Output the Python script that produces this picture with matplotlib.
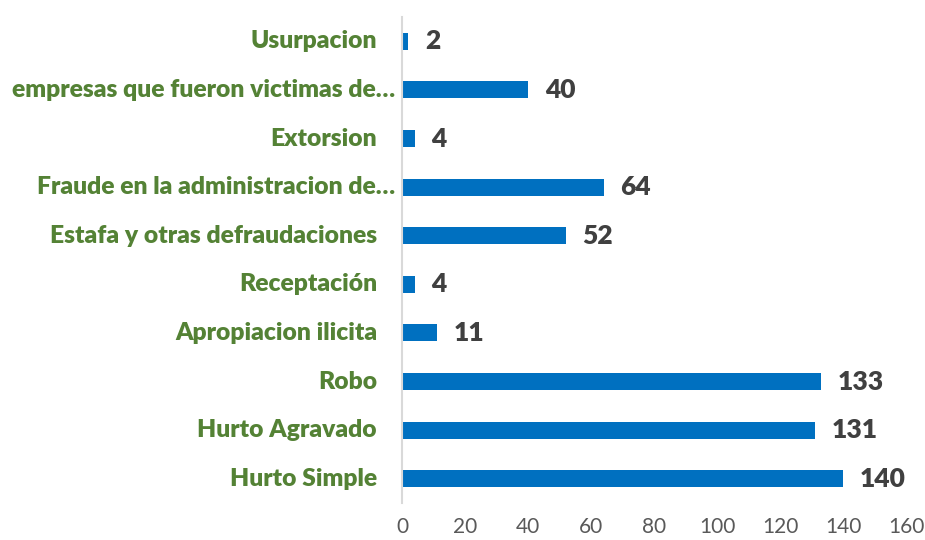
import matplotlib
import matplotlib.pyplot as plt

matplotlib.use('agg')

categories = ['Hurto Simple', 'Hurto Agravado', 'Robo', 'Apropiacion ilicita',
              'Receptación', 'Estafa y otras defraudaciones',
              'Fraude en la administracion de…', 'Extorsion',
              'empresas que fueron victimas de…', 'Usurpacion']
values = [140, 131, 133, 11, 4, 52, 64, 4, 40, 2]
xticks = [0, 20, 40, 60, 80, 100, 120, 140, 160]

plt.rcParams['font.family'] = ['Lato', 'DejaVu Sans']

fig = plt.figure(figsize=(9.25, 5.4), dpi=100)
ax = fig.add_axes([0.4346, 0.0685, 0.545, 0.9])

ypos = list(range(len(categories)))
ax.barh(ypos, values, height=0.35, color='#0070C0')

ax.set_xlim(0, 160)
ax.set_ylim(-0.5, len(categories) - 0.5)
ax.set_xticks(xticks)
ax.set_yticks([])
ax.tick_params(axis='x', length=0, pad=10, labelsize=15, labelcolor='#595959')

for s in ['top', 'right', 'bottom']:
    ax.spines[s].set_visible(False)
ax.spines['left'].set_color('#D9D9D9')
ax.spines['left'].set_linewidth(1.5)

# category labels (truncated ones sit closer to the axis, like in Excel)
for y, lab in zip(ypos, categories):
    off = -5 if lab.endswith('…') else -18
    ax.annotate(lab, xy=(0, y), xycoords=('axes fraction', 'data'),
                xytext=(off, 0), textcoords='offset points',
                ha='right', va='center', fontsize=17.7, fontweight='heavy',
                color='#548235')

# value labels
for y, v in zip(ypos, values):
    ax.annotate(str(v), xy=(v, y), xytext=(12, 0), textcoords='offset points',
                ha='left', va='center', fontsize=19, fontweight='heavy',
                color='#404040')

plt.savefig('out.png', dpi=100, facecolor='white')
